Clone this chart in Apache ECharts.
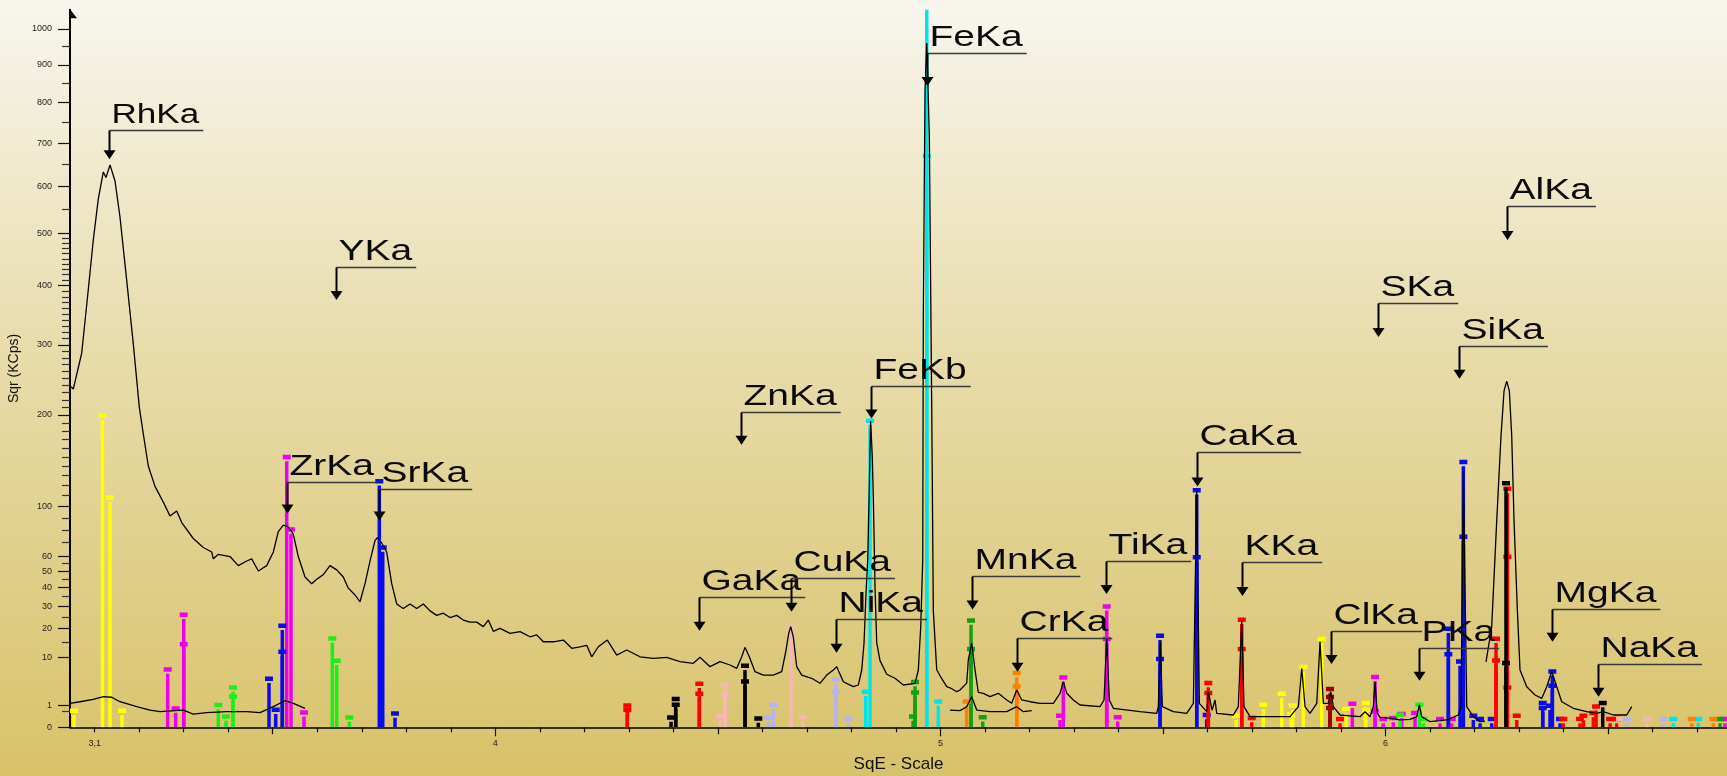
<!DOCTYPE html>
<html>
<head>
<meta charset="utf-8">
<script src="https://cdn.jsdelivr.net/npm/echarts@6/dist/echarts.min.js"></script>
<style>
html,body{margin:0;padding:0;}
#chart{width:1727px;height:776px;}
</style>
</head>
<body>
<div id="chart"></div>
<script>
// ---------- axes ----------
const X_MIN = 3.0445, X_MAX = 6.7672;
const X_LABEL_TICKS = [3.1, 4, 5, 6];
const X_MAJOR_TICKS = [4, 5, 6];
const X_HALF_TICKS = [3.5, 4.5, 5.5, 6.5];
const Y_MAX_KCPS = 1056;
const Y_LABEL_TICKS = [0, 1, 10, 20, 30, 40, 50, 60, 100, 200, 300, 400, 500, 600, 700, 800, 900, 1000];
const Y_MINOR_TICKS = [0.5, 15, 25, 35, 45, 55, 70, 80, 90,
  110, 120, 130, 140, 150, 160, 170, 180, 190,
  210, 220, 230, 240, 250, 260, 270, 280, 290,
  310, 320, 330, 340, 350, 360, 370, 380, 390,
  410, 420, 430, 440, 450, 460, 470, 480, 490,
  550, 650, 750, 850, 950];

// ---------- measured spectrum [sqrt(E), KCps] ----------
const spectrumMain = [[3.0468,237.7],[3.0519,234.7],[3.0708,287],[3.0856,393],[3.0969,487.5],[3.1081,572.5],[3.1193,632.5],[3.1254,620],[3.1344,648.6],[3.1456,612],[3.1568,534],[3.1719,409.5],[3.1867,301.5],[3.2002,210.3],[3.2092,176.4],[3.2204,140],[3.2355,119],[3.2541,104],[3.2692,91.6],[3.2842,96],[3.2955,86],[3.3215,73.1],[3.344,66.3],[3.3629,63],[3.3665,58.2],[3.3777,61.4],[3.404,59.8],[3.4226,53.6],[3.4415,56.7],[3.4527,58.2],[3.4676,50.1],[3.4864,53.6],[3.5013,63],[3.5125,78.5],[3.5237,83.9],[3.535,82.3],[3.5462,76.6],[3.5574,59.8],[3.5725,46.3],[3.5875,42.3],[3.5988,45],[3.6136,47.8],[3.6286,53.6],[3.6437,50.8],[3.6585,46.3],[3.6698,39.7],[3.6848,35.9],[3.696,32.3],[3.7073,42.3],[3.7185,56.7],[3.7297,71.4],[3.7349,73.8],[3.7448,69.7],[3.756,63],[3.7673,42.3],[3.7785,31.2],[3.7933,28.9],[3.8084,31.2],[3.8234,28.9],[3.8383,31.2],[3.8533,27.8],[3.8684,25.7],[3.8832,26.7],[3.8982,24.7],[3.9133,25.7],[3.9281,23.6],[3.9432,22.7],[3.9582,22.7],[3.9731,20.8],[3.9843,23.6],[3.9955,18.9],[4.0106,20.1],[4.0331,18.1],[4.0555,18.8],[4.078,16.8],[4.093,17.5],[4.1079,15.0],[4.1304,15.0],[4.1528,15.6],[4.1717,12.8],[4.1903,13.3],[4.2054,13.8],[4.2166,10.2],[4.2314,13.3],[4.2517,15.6],[4.2728,10.7],[4.2952,12.25],[4.3251,10.2],[4.355,9.77],[4.3851,10.05],[4.415,8.83],[4.4449,8.4],[4.4599,10.05],[4.4824,7.53],[4.5049,8.83],[4.5273,7.96],[4.5424,7.14],[4.5536,10.2],[4.561,13.1],[4.5707,10.2],[4.5835,6.34],[4.6021,5.6],[4.6246,5.6],[4.6435,6.34],[4.6532,12.25],[4.6592,18.1],[4.6637,20.8],[4.6695,16.8],[4.6772,7.53],[4.6884,5.6],[4.7109,4.93],[4.7295,3.97],[4.7446,5.6],[4.7594,6.73],[4.7671,7.5],[4.7819,4.26],[4.8043,3.38],[4.8156,3.67],[4.8232,6.73],[4.8284,14.5],[4.8329,36.8],[4.8367,57.4],[4.8403,120],[4.8432,192],[4.847,150],[4.8493,108],[4.8531,39.8],[4.8569,14.7],[4.8643,9.12],[4.8794,5.78],[4.898,4.93],[4.9167,3.67],[4.943,3.97],[4.9504,6.73],[4.9558,20.8],[4.9603,57.4],[4.9616,346],[4.9654,832],[4.9693,960],[4.9751,718],[4.9805,210],[4.9841,27.8],[4.9917,6.8],[5.003,4.84],[5.0142,3.38],[5.0216,3.2],[5.0367,2.6],[5.0441,2.85],[5.0591,4],[5.0627,9.3],[5.0704,14.5],[5.0778,6.73],[5.0852,2.5],[5.0964,2.37],[5.1115,1.92],[5.1301,2.37],[5.149,1.53],[5.1602,1.18],[5.1715,2.85],[5.1827,1.53],[5.2013,1.34],[5.2238,1.18],[5.2537,1.18],[5.2687,2.37],[5.2761,4.26],[5.2838,2.37],[5.2986,1.53],[5.3137,1.02],[5.3586,0.87],[5.3676,1.53],[5.3736,16.25],[5.3795,1.53],[5.3885,0.74],[5.4485,0.5],[5.486,0.4],[5.4896,0.87],[5.4941,15.0],[5.4986,0.87],[5.5233,0.5],[5.5534,0.4],[5.5683,1.18],[5.5759,115],[5.5817,1.18],[5.5983,0.5],[5.6019,2.6],[5.6102,0.6],[5.617,1.53],[5.6208,0.4],[5.6581,0.31],[5.6693,0.87],[5.677,23.6],[5.6821,0.87],[5.6956,0.23],[5.7855,0.23],[5.8041,0.87],[5.8118,7.14],[5.8192,0.87],[5.8304,0.4],[5.8455,1.18],[5.8529,15.0],[5.8603,1.18],[5.8716,1.18],[5.8769,2.6],[5.8828,0.87],[5.8978,0.31],[5.9428,0.23],[5.954,0.5],[5.9652,0.23],[5.9726,0.87],[5.9765,4.26],[5.9816,0.4],[5.9877,0.2],[6.0101,0.17],[6.0326,0.11],[6.0551,0.13],[6.0702,0.23],[6.076,1.02],[6.0814,0.23],[6.1,0.065],[6.1375,0.11],[6.1636,0.31],[6.1697,0.87],[6.1749,135],[6.1825,0.87],[6.1973,0.23],[6.2124,0.065],[6.2236,0.07]];
const spectrumAl = [[6.2258,8.8],[6.2386,20.8],[6.2499,88],[6.2595,174.5],[6.2663,232],[6.2723,245.7],[6.2782,232],[6.2835,174.5],[6.2887,88],[6.2961,28.7],[6.3022,6.73],[6.3173,3.38],[6.3359,2.14],[6.351,1.72],[6.3622,3.38],[6.3734,6.34],[6.3847,3.38],[6.3959,1.34],[6.4219,0.74],[6.452,0.5],[6.4746,0.4],[6.4894,0.5],[6.5119,0.31],[6.5419,0.31],[6.5532,0.87]];
const backgroundLow1 = [[3.0445,1.18],[3.067,1.34],[3.0969,1.61],[3.1193,1.92],[3.1382,1.85],[3.1568,1.34],[3.1944,0.87],[3.2242,0.61],[3.2467,0.5],[3.2991,0.61],[3.3215,0.36],[3.3516,0.44],[3.3966,0.5],[3.4415,0.5],[3.4714,0.44],[3.5013,0.87],[3.5275,1.45],[3.5462,1.18],[3.5725,0.74]];
const backgroundLow2 = [[5.0216,0.61],[5.0441,0.57],[5.0591,0.87],[5.0704,1.92],[5.0816,0.61],[5.1115,0.5],[5.149,0.5],[5.1715,0.87],[5.1863,0.5],[5.2052,0.57]];

// ---------- element line markers [sqrt(E), KCps] ----------
const yellowLines = [[3.0535,0.55],[3.1175,199],[3.1344,108],[3.1613,0.55],[5.6642,0.26],[5.7255,1.02],[5.7668,2.27],[5.788,0.34],[5.7915,0.96],[5.8154,7.38],[5.8567,15.9],[5.9113,0.66],[5.9555,1.18],[5.9555,0.6]];
const magentaLines = [[3.264,6.8],[3.282,0.71],[3.3,25.9],[3.3,14.1],[3.5314,149.5],[3.541,80],[3.5702,0.44],[5.2687,0.26],[5.2761,5.05],[5.3736,29.8],[5.3736,15.9],[5.3984,0.2],[5.9255,1.11],[5.9765,5.13],[5.9765,0.5],[5.9951,0.13],[6.0176,0.17],[6.0364,0.35],[6.0664,0.4],[6.1225,0.13],[6.1488,0.13],[6.7627,0.13]];
const limeLines = [[3.3777,0.99],[3.395,0.23],[3.4107,3.2],[3.4107,1.92],[3.6338,16.1],[3.6437,9.0],[3.672,0.19],[6.0326,0.31],[6.076,1.02],[6.085,0.13]];
const blueLines = [[3.4916,4.78],[3.5067,0.61],[3.5215,21.05],[3.5215,11.6],[3.7394,123.8],[3.7471,66.1],[3.7747,0.38],[5.4934,17.1],[5.4934,9.5],[5.5759,115],[5.5759,59.1],[5.5983,0.3],[6.1412,19.8],[6.1412,10.9],[6.1674,8.8],[6.1749,144],[6.1749,74.3],[6.1973,0.26],[6.2124,0.13],[6.2386,0.13],[6.3532,1.18],[6.3532,0.74],[6.3696,0.93],[6.3748,6.34],[6.3748,3.5],[6.3921,0.13]];
const redLines = [[4.2966,0.96],[4.2966,0.6],[4.4584,3.85],[4.4584,2.27],[5.6019,3.97],[5.6019,2.37],[5.677,23.6],[5.677,12.5],[5.6994,0.17],[5.8978,0.13],[6.2483,16],[6.2483,9.1],[6.2737,116.5],[6.2737,59.5],[6.2737,3.2],[6.2948,0.26],[6.3995,0.13],[6.437,0.13],[6.4445,0.26],[6.4669,0.4],[6.473,0.87],[6.5046,0.13],[6.5196,0.13]];
const blackLines = [[4.3948,0.19],[4.4053,1.61],[4.4053,1.02],[4.561,7.7],[4.561,4.26],[4.5909,0.15],[6.2707,122],[6.2707,8.4],[6.488,1.18]];
const pinkLines = [[4.5049,0.23],[4.5161,3.62],[4.5161,2.14],[4.6644,20.1],[4.6907,0.2],[6.527,0.13],[6.5869,0.13]];
const lavenderLines = [[4.6134,0.18],[4.6246,1.02],[4.7655,4.59],[4.7655,2.6],[4.7931,0.14],[6.542,0.13],[6.6242,0.13]];
const cyanLines = [[4.8322,2.56],[4.8419,192.4],[4.9693,1100],[4.9693,669],[4.9953,1.34],[6.6466,0.13],[6.7028,0.13]];
const greenLines = [[4.9385,0.23],[4.943,4.15],[4.943,2.46],[5.0688,23.3],[5.0688,12.5],[5.0951,0.2],[6.7515,0.13]];
const orangeLines = [[5.0591,1.34],[5.1715,5.98],[5.1715,3.38],[6.688,0.13],[6.7365,0.13]];
const darkredLines = [[5.8754,2.96],[5.8754,1.85],[5.8754,0.74]];

// ---------- peak annotations: [label, sqrt(E), arrow tip KCps, elbow KCps] ----------
const annotations = [
  ['RhKa', 3.1321, 662, 731],
  ['YKa', 3.6414, 374.5, 433.8],
  ['ZrKa', 3.5309, 93.7, 123.4],
  ['SrKa', 3.7394, 87.8, 116.8],
  ['ZnKa', 4.552, 163.7, 204.2],
  ['GaKa', 4.4584, 19.1, 34.7],
  ['CuKa', 4.6637, 27.4, 45.5],
  ['NiKa', 4.7648, 11.4, 23.9],
  ['FeKb', 4.8432, 195.5, 239],
  ['FeKa', 4.9692, 843.5, 932.6],
  ['MnKa', 5.0703, 28.5, 46.9],
  ['CrKa', 5.1714, 6.34, 16.25],
  ['TiKa', 5.3721, 36.4, 56.7],
  ['CaKa', 5.5759, 119, 154.9],
  ['KKa', 5.6783, 35.3, 55.7],
  ['ClKa', 5.8776, 8.22, 19.2],
  ['PKa', 6.0753, 4.45, 13.0],
  ['SKa', 5.9838, 312.5, 368.4],
  ['SiKa', 6.1652, 249.3, 297.5],
  ['AlKa', 6.2737, 487.1, 556.5],
  ['MgKa', 6.3748, 15.03, 28.7],
  ['NaKa', 6.4768, 1.92, 8.22]
];

// ---------- styles ----------
const FONT = '"Liberation Sans", Arial, Helvetica, sans-serif';
const LABEL_SIZE = 30, LABEL_SIZE_SMALL = { RhKa: 27 }, LABEL_STRETCH = 1.3;
const LINE_GROUPS = [
  [yellowLines, '#ffff00'], [magentaLines, '#ee00ee'], [limeLines, '#18f018'],
  [blueLines, '#0a0aee'], [redLines, '#ff0000'], [blackLines, '#000000'],
  [pinkLines, '#f6b8b4'], [lavenderLines, '#b4b4f0'], [cyanLines, '#00e6e6'],
  [greenLines, '#12a012'], [orangeLines, '#ff8000'], [darkredLines, '#a00000']
];

const sq = v => Math.sqrt(v);
const toPlot = arr => arr.map(p => [p[0], sq(p[1])]);

const mctx = document.createElement('canvas').getContext('2d');
function textWidth(t, fs) { mctx.font = fs + 'px ' + FONT; return mctx.measureText(t).width; }

function markRenderer(color) {
  return function (params, api) {
    const base = api.coord([api.value(0), 0]);
    const top = api.coord([api.value(0), api.value(1)]);
    const x = base[0];
    const h = base[1] - (top[1] + 4);
    return {
      type: 'group',
      children: [
        { type: 'rect', shape: { x: x - 1.75, y: top[1] + 4, width: 3.5, height: Math.max(0, h) }, style: { fill: color } },
        { type: 'rect', shape: { x: x - 4, y: top[1] - 2.5, width: 8, height: 4.5 }, style: { fill: color } }
      ]
    };
  };
}

function annoRenderer(params, api) {
  const a = annotations[params.dataIndex];
  const tip = api.coord([api.value(0), api.value(1)]);
  const elb = api.coord([api.value(0), api.value(2)]);
  const fs = LABEL_SIZE_SMALL[a[0]] || LABEL_SIZE;
  const tw = textWidth(a[0], fs) * LABEL_STRETCH;
  const x = Math.round(tip[0]) + 0.5;
  const ey = Math.round(elb[1]) + 0.5;
  return {
    type: 'group',
    children: [
      { type: 'line', shape: { x1: x, y1: ey, x2: x + tw + 6, y2: ey }, style: { stroke: '#3a3a3a', lineWidth: 1.3 } },
      { type: 'line', shape: { x1: x, y1: ey, x2: x, y2: tip[1] - 8 }, style: { stroke: '#000', lineWidth: 2 } },
      { type: 'polygon', shape: { points: [[x - 6, tip[1] - 9], [x + 6, tip[1] - 9], [x, tip[1]]] }, style: { fill: '#000' } },
      { type: 'text', x: x + 2, y: ey - 1, scaleX: LABEL_STRETCH,
        style: { text: a[0], font: fs + 'px ' + FONT, fill: '#0a0a0a', align: 'left', verticalAlign: 'bottom' } }
    ]
  };
}

const series = [];
LINE_GROUPS.forEach(([arr, color]) => {
  series.push({
    type: 'custom', coordinateSystem: 'cartesian2d', xAxisIndex: 0, yAxisIndex: 0,
    data: toPlot(arr), renderItem: markRenderer(color), clip: true, z: 2, silent: true
  });
});
[spectrumMain, spectrumAl, backgroundLow1, backgroundLow2].forEach(arr => {
  series.push({
    type: 'line', xAxisIndex: 0, yAxisIndex: 0, data: toPlot(arr), symbol: 'none', showSymbol: false,
    lineStyle: { color: '#000', width: 1.3 }, z: 3, silent: true, clip: true
  });
});
series.push({
  type: 'custom', coordinateSystem: 'cartesian2d', xAxisIndex: 0, yAxisIndex: 0,
  data: annotations.map(a => [a[1], sq(a[2]), sq(a[3])]), renderItem: annoRenderer, clip: false, z: 5, silent: true
});

const xBase = (extra) => Object.assign({
  type: 'value', min: X_MIN, max: X_MAX, position: 'bottom', splitLine: { show: false },
  axisLine: { show: false }, axisLabel: { show: false }
}, extra);
const yBase = (extra) => Object.assign({
  type: 'value', min: 0, max: sq(Y_MAX_KCPS), position: 'left', splitLine: { show: false },
  axisLine: { show: false }, axisLabel: { show: false }
}, extra);

const minorX = [];
for (let i = 31; i <= 67; i++) if (i % 5 !== 0) minorX.push(i / 10);

const option = {
  animation: false,
  backgroundColor: {
    type: 'linear', x: 0, y: 0, x2: 0, y2: 1,
    colorStops: [{ offset: 0, color: '#f8f6ee' }, { offset: 0.45, color: '#e8dcab' }, { offset: 1, color: '#d8c269' }]
  },
  grid: { left: 70, right: 0, top: 9.7, bottom: 48.7, containLabel: false, outerBoundsMode: 'none' },
  xAxis: [
    xBase({
      axisLine: { show: true, lineStyle: { color: '#000', width: 1.5 } },
      axisTick: { show: true, customValues: X_MAJOR_TICKS, length: 9, lineStyle: { color: '#111', width: 1.2 } },
      axisLabel: { show: true, customValues: X_LABEL_TICKS, formatter: v => String(v).replace('.', ','),
        fontSize: 9, color: '#222', fontFamily: FONT, margin: 12 },
      name: 'SqE - Scale', nameLocation: 'middle', nameGap: 29,
      nameTextStyle: { fontSize: 17, color: '#111', fontFamily: FONT }
    }),
    xBase({ axisTick: { show: true, customValues: X_HALF_TICKS, length: 7, lineStyle: { color: '#111', width: 1.2 } } }),
    xBase({ axisTick: { show: true, customValues: minorX, length: 5, lineStyle: { color: '#111', width: 1.2 } } })
  ],
  yAxis: [
    yBase({
      axisLine: { show: true, lineStyle: { color: '#000', width: 2 },
        symbol: ['none', 'path://M7,0 L7,9 L14,9 Z M0,9 L0.01,9 Z'], symbolSize: [14, 9], symbolOffset: [0, -4] },
      axisTick: { show: true, customValues: Y_LABEL_TICKS.map(sq), length: 12, lineStyle: { color: '#111', width: 1.2 } },
      axisLabel: { show: true, customValues: Y_LABEL_TICKS.map(sq), formatter: v => String(Math.round(v * v)),
        fontSize: 9, color: '#222', fontFamily: FONT, margin: 18 },
      name: 'Sqr (KCps)', nameLocation: 'middle', nameGap: 45, nameRotate: 90,
      nameTextStyle: { fontSize: 14, color: '#111', fontFamily: FONT }
    }),
    yBase({ axisTick: { show: true, customValues: Y_MINOR_TICKS.map(sq), length: 8, lineStyle: { color: '#333', width: 1.2 } } })
  ],
  series: series
};

const chart = echarts.init(document.getElementById('chart'), null, { renderer: 'canvas' });
chart.setOption(option);
</script>
</body>
</html>
